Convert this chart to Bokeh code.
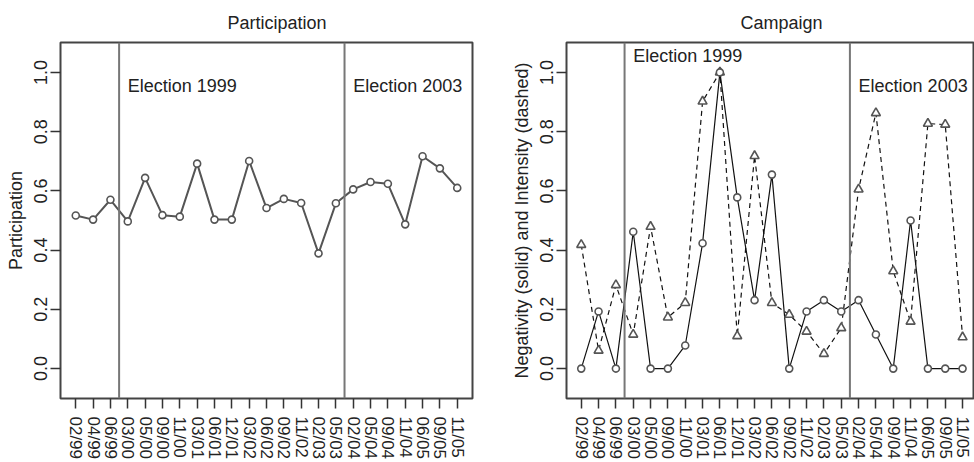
from bokeh.plotting import figure
from bokeh.layouts import row
from bokeh.models import Range1d, FixedTicker, PrintfTickFormatter, Span, ColumnDataSource
from bokeh.core.properties import value
from bokeh.embed import file_html
from bokeh.resources import INLINE

# Survey waves (month/year)
waves = ["02/99", "04/99", "06/99", "03/00", "05/00", "09/00", "11/00", "03/01",
         "06/01", "12/01", "03/02", "06/02", "09/02", "11/02", "02/03", "05/03",
         "02/04", "05/04", "09/04", "11/04", "06/05", "09/05", "11/05"]

participation = [0.517, 0.503, 0.570, 0.497, 0.644, 0.518, 0.513, 0.692,
                 0.503, 0.503, 0.701, 0.542, 0.573, 0.559, 0.389, 0.558,
                 0.605, 0.630, 0.624, 0.487, 0.717, 0.676, 0.610]

negativity = [0.0, 0.193, 0.0, 0.462, 0.0, 0.0, 0.078, 0.423,
              1.0, 0.578, 0.231, 0.655, 0.0, 0.193, 0.231, 0.193,
              0.231, 0.115, 0.0, 0.500, 0.0, 0.0, 0.0]

intensity = [0.418, 0.061, 0.282, 0.115, 0.479, 0.173, 0.222, 0.902,
             1.0, 0.110, 0.718, 0.222, 0.182, 0.125, 0.050, 0.137,
             0.605, 0.863, 0.329, 0.159, 0.827, 0.824, 0.106]

# Election dates fall between these wave positions
elections = [2.5, 15.5]
election_labels = ["Election 1999", "Election 2003"]

y_ticks = [0.0, 0.2, 0.4, 0.6, 0.8, 1.0]

FONT = "Liberation Sans"
TXT = "#222222"
idx = list(range(len(waves)))


def make_panel(title, ylabel, width, border_left, border_right, x_range, title_offset):
    p = figure(width=width, height=462, output_backend="svg", toolbar_location=None,
               x_range=Range1d(*x_range), y_range=Range1d(-0.101, 1.101),
               min_border_left=border_left, min_border_right=border_right,
               min_border_top=42, min_border_bottom=60)
    p.title.text = title
    p.title.align = "left"
    p.title.offset = title_offset
    p.title.text_font = FONT
    p.title.text_font_size = "18px"
    p.title.text_font_style = "normal"
    p.title.text_color = TXT
    p.title.standoff = 19

    p.grid.visible = False
    p.outline_line_color = "#444444"
    p.outline_line_width = 2
    p.background_fill_color = "white"
    p.border_fill_color = "white"

    xa = p.xaxis[0]
    xa.ticker = FixedTicker(ticks=idx)
    xa.major_label_overrides = {i: w for i, w in enumerate(waves)}
    xa.major_label_orientation = "vertical"
    xa.major_label_text_font = FONT
    xa.major_label_text_font_size = "17px"
    xa.major_label_text_color = TXT
    xa.major_label_standoff = 8
    xa.major_tick_out = 10
    xa.major_tick_in = 0
    xa.minor_tick_out = 0
    xa.minor_tick_in = 0
    xa.major_tick_line_color = "#333333"
    xa.major_tick_line_width = 1.5
    xa.axis_line_color = None

    ya = p.yaxis[0]
    ya.ticker = FixedTicker(ticks=y_ticks)
    ya.formatter = PrintfTickFormatter(format="%.1f")
    ya.major_label_orientation = "vertical"
    ya.major_label_text_font = FONT
    ya.major_label_text_font_size = "18px"
    ya.major_label_text_color = TXT
    ya.major_label_standoff = 3
    ya.major_tick_out = 10
    ya.major_tick_in = 0
    ya.minor_tick_out = 0
    ya.minor_tick_in = 0
    ya.major_tick_line_color = "#333333"
    ya.major_tick_line_width = 1.5
    ya.axis_line_color = None
    ya.axis_label = ylabel
    ya.axis_label_text_font = FONT
    ya.axis_label_text_font_size = "18px"
    ya.axis_label_text_font_style = "normal"
    ya.axis_label_text_color = TXT
    ya.axis_label_standoff = 6

    for loc in elections:
        p.add_layout(Span(location=loc, dimension="height",
                          line_color="#777777", line_width=2))
    return p


# Left panel: participation
left = make_panel("Participation", "Participation", 490, 60, 18, (-0.88, 22.88), 167)
src_l = ColumnDataSource(dict(x=idx, y=participation))
left.line("x", "y", source=src_l, line_color="#555555", line_width=2)
left.scatter("x", "y", source=src_l, marker="circle", size=7,
             line_color="#555555", line_width=1.6, fill_color="white")
left.text(x=[3.0, 16.0], y=[0.954, 0.954], text=election_labels,
          text_font=value(FONT), text_font_size="18px", text_color=TXT,
          text_align="left", text_baseline="middle")

# Right panel: negativity (solid) and intensity (dashed)
right = make_panel("Campaign", "Negativity (solid) and Intensity (dashed)",
                   484, 76, 1, (-0.85, 22.63), 174)
src_r = ColumnDataSource(dict(x=idx, neg=negativity, inten=intensity))
right.line("x", "inten", source=src_r, line_color="#111111", line_width=1.2,
           line_dash="5 4")
right.line("x", "neg", source=src_r, line_color="#111111", line_width=1.2)
right.scatter("x", "inten", source=src_r, marker="triangle", size=9,
              line_color="#555555", line_width=1.6, fill_color="white")
right.scatter("x", "neg", source=src_r, marker="circle", size=7,
              line_color="#555555", line_width=1.6, fill_color="white")
right.text(x=[3.0, 16.0], y=[1.054, 0.954], text=election_labels,
           text_font=value(FONT), text_font_size="18px", text_color=TXT,
           text_align="left", text_baseline="middle")

layout = row(left, right)
open("out.html", "w").write(file_html(layout, INLINE))
